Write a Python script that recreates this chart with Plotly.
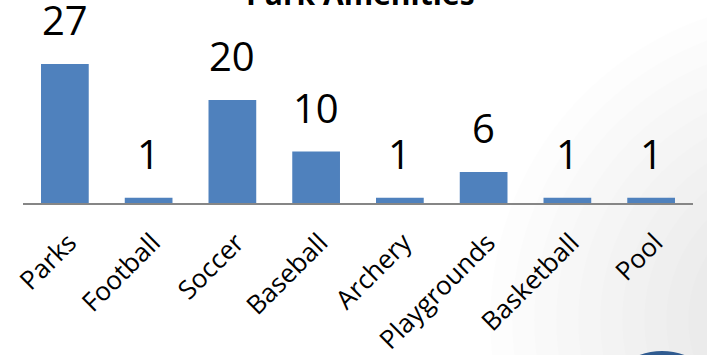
import plotly.graph_objects as go

# Amenity counts
categories = ["Parks", "Football", "Soccer", "Baseball", "Archery",
              "Playgrounds", "Basketball", "Pool"]
counts = [27, 1, 20, 10, 1, 6, 1, 1]
title_text = "Park Amenities"

W, H = 707, 355
ML, MR, MT, MB = 23, 14, 40, 152
PW, PH = W - ML - MR, H - MT - MB


def px_x(px):
    return (px - ML) / PW


def px_y(py):
    return (H - MB - py) / PH


BAR_BLUE = "#4F81BD"
FONT = "Open Sans"

fig = go.Figure(
    go.Bar(
        x=categories,
        y=counts,
        marker=dict(color=BAR_BLUE, line=dict(width=0)),
        width=0.57,
    )
)

# value labels above each bar
for cat, val in zip(categories, counts):
    fig.add_annotation(
        x=cat, y=val, text=str(val), showarrow=False,
        xref="x", yref="y", yanchor="bottom", yshift=15,
        font=dict(family=FONT, size=40, color="#000000"),
    )

# title, partly above the top edge
fig.add_annotation(
    x=px_x(360), y=px_y(-7), xref="paper", yref="paper",
    text="<b>" + title_text + "</b>", showarrow=False,
    xanchor="center", yanchor="middle",
    font=dict(family=FONT, size=30, color="#000000"),
)

# soft grey shading towards the right edge
shapes = []
n = 12
for i in range(n):
    r = 320 - i * 22
    cx, cy = 810, 320
    shapes.append(dict(
        type="circle", xref="paper", yref="paper", layer="below",
        x0=px_x(cx - r), x1=px_x(cx + r),
        y0=px_y(cy + r), y1=px_y(cy - r),
        fillcolor="rgba(0,0,0,0.006)", line=dict(width=0),
    ))
# dark blue disc peeking in at the bottom right
shapes.append(dict(
    type="circle", xref="paper", yref="paper", layer="above",
    x0=px_x(662 - 65), x1=px_x(662 + 65),
    y0=px_y(351 + 130), y1=px_y(351),
    fillcolor="#305B90", line=dict(width=0),
))

fig.update_layout(
    width=W, height=H,
    margin=dict(l=ML, r=MR, t=MT, b=MB, pad=0, autoexpand=False),
    paper_bgcolor="#ffffff", plot_bgcolor="rgba(0,0,0,0)",
    showlegend=False,
    shapes=shapes,
    bargap=0.43,
    xaxis=dict(
        showline=True, linecolor="#868686", linewidth=2,
        showgrid=False, ticks="", tickangle=-45,
        tickfont=dict(family=FONT, size=26, color="#000000"),
        ticklabelstandoff=12, ticklabelshift=4, automargin=False,
        zeroline=False,
    ),
    yaxis=dict(
        range=[0, PH / 5.15], visible=False, showgrid=False,
        zeroline=False, fixedrange=True, automargin=False,
    ),
)

fig.write_html("out.html")
